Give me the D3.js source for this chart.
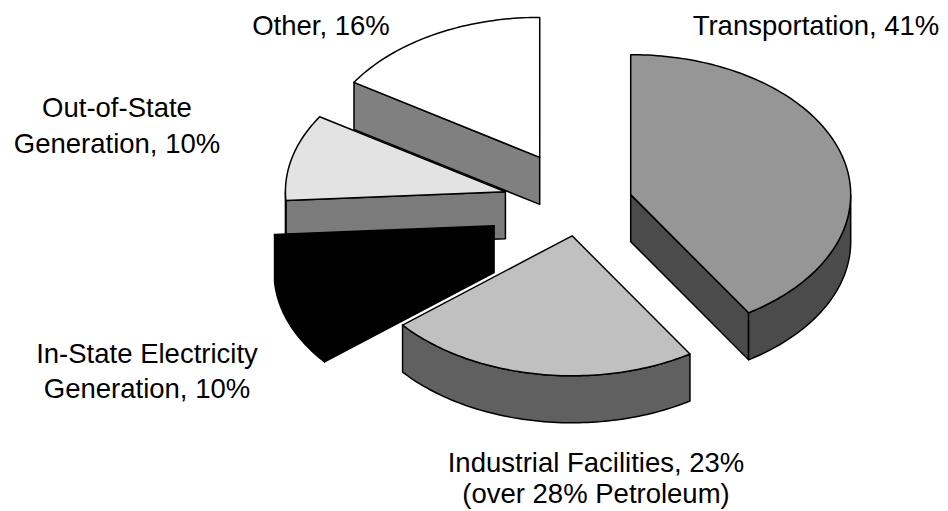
<!DOCTYPE html>
<html>
<head>
<meta charset="utf-8">
<script src="https://cdn.jsdelivr.net/npm/d3@7"></script>
<style>
  html, body { margin: 0; padding: 0; background: #fff; }
  svg { display: block; }
  text { font-family: Arial, "Liberation Sans", sans-serif; font-size: 27.5px; fill: #000; }
</style>
</head>
<body>
<div id="area"></div>
<script>
// data
var categories = ["Transportation", "Industrial Facilities", "In-State Electricity Generation", "Out-of-State Generation", "Other"];
var values = [41, 23, 10, 10, 16];
var labelLines = [
  ["Transportation, 41%"],
  ["Industrial Facilities, 23%", "(over 28% Petroleum)"],
  ["In-State Electricity", "Generation, 10%"],
  ["Out-of-State", "Generation, 10%"],
  ["Other, 16%"]
];

// styling / layout
var topColor = ["#969696", "#c0c0c0", "#000000", "#e3e3e3", "#ffffff"];
var sideColor = ["#4b4b4b", "#606060", "#000000", "#7b7b7b", "#808080"];
var explode = [0.24, 0.23, 0.42, 0.35, 0.38];
var labelPos = [
  { x: 816, y: 35, dy: 0 },
  { x: 596, y: 472, dy: 31 },
  { x: 147, y: 363, dy: 35 },
  { x: 117, y: 117, dy: 36 },
  { x: 321, y: 35, dy: 0 }
];

var width = 948, height = 511;
var cx = 580, cy = 204, rx = 220, ry = 140, depth = 47;

var svg = d3.select("#area")
  .append("svg")
  .attr("width", width)
  .attr("height", height);

var pie = d3.pie().sort(null).value(function (d) { return d; });
var arcs = pie(values);

// point on the top ellipse of a slice
function pt(c, a, dz) {
  return [c[0] + rx * Math.sin(a), c[1] - ry * Math.cos(a) + (dz || 0)];
}
function arcPts(c, a0, a1, dz) {
  var n = Math.max(2, Math.ceil(Math.abs(a1 - a0) / 0.02));
  return d3.range(n + 1).map(function (i) { return pt(c, a0 + (a1 - a0) * i / n, dz); });
}
var line = d3.line().curve(d3.curveLinearClosed);

var slices = arcs.map(function (d, i) {
  var mid = (d.startAngle + d.endAngle) / 2;
  var c = [cx + explode[i] * rx * Math.sin(mid), cy - explode[i] * ry * Math.cos(mid)];
  return { d: d, i: i, c: c };
});

// back to front
slices.sort(function (a, b) { return a.c[1] - b.c[1]; });

slices.forEach(function (s) {
  var a0 = s.d.startAngle, a1 = s.d.endAngle, c = s.c, i = s.i;
  var g = svg.append("g").attr("class", "slice");
  var walls = [];

  // radial wall at start edge
  if (Math.sin(a0) < -1e-6) {
    walls.push([c, pt(c, a0), pt(c, a0, depth), [c[0], c[1] + depth]]);
  }
  // radial wall at end edge
  if (Math.sin(a1) > 1e-6) {
    walls.push([c, pt(c, a1), pt(c, a1, depth), [c[0], c[1] + depth]]);
  }
  // outer wall, front half only
  var f0 = Math.max(a0, Math.PI / 2), f1 = Math.min(a1, Math.PI * 1.5);
  if (f1 > f0) {
    walls.push(arcPts(c, f0, f1, 0).concat(arcPts(c, f1, f0, depth)));
  }

  walls.forEach(function (w) {
    g.append("path")
      .attr("d", line(w))
      .attr("fill", sideColor[i])
      .attr("stroke", "#000")
      .attr("stroke-width", 1.5)
      .attr("stroke-linejoin", "round");
  });

  g.append("path")
    .attr("d", line([c].concat(arcPts(c, a0, a1, 0))))
    .attr("fill", topColor[i])
    .attr("stroke", "#000")
    .attr("stroke-width", 1.5)
    .attr("stroke-linejoin", "round");
});

// labels
labelLines.forEach(function (lines, i) {
  var t = svg.append("text")
    .attr("text-anchor", "middle")
    .attr("x", labelPos[i].x)
    .attr("y", labelPos[i].y);
  lines.forEach(function (l, j) {
    t.append("tspan")
      .attr("x", labelPos[i].x)
      .attr("y", labelPos[i].y + j * labelPos[i].dy)
      .text(l);
  });
});
</script>
</body>
</html>
